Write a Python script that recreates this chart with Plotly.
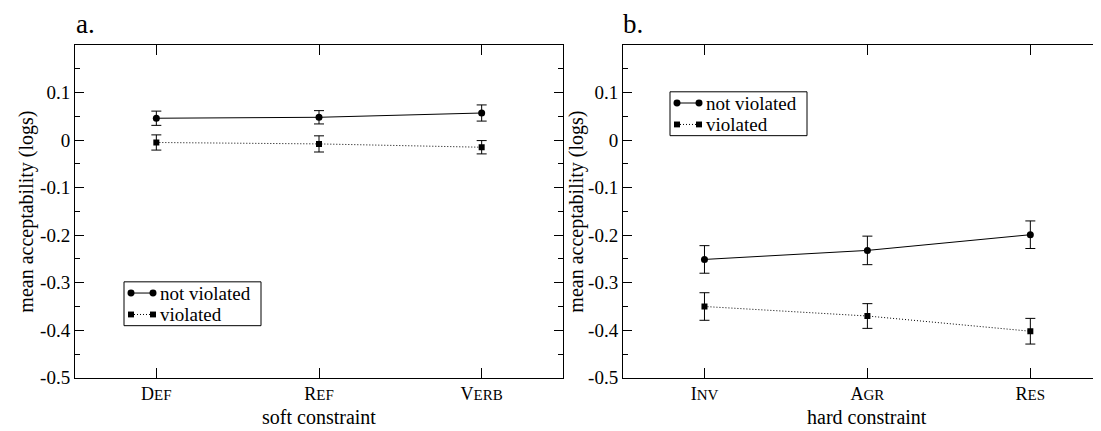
import plotly.graph_objects as go

# ---------------- data ----------------
soft_categories = ["DEF", "REF", "VERB"]
soft_not_violated = [0.046, 0.048, 0.057]
soft_not_violated_err = [0.015, 0.014, 0.017]
soft_violated = [-0.005, -0.008, -0.015]
soft_violated_err = [0.016, 0.017, 0.014]

hard_categories = ["INV", "AGR", "RES"]
hard_not_violated = [-0.251, -0.232, -0.199]
hard_not_violated_err = [0.029, 0.030, 0.029]
hard_violated = [-0.350, -0.370, -0.402]
hard_violated_err = [0.029, 0.026, 0.027]

y_tick_values = [-0.5, -0.4, -0.3, -0.2, -0.1, 0.0, 0.1]
y_tick_labels = ["-0.5", "-0.4", "-0.3", "-0.2", "-0.1", "0", "0.1"]

# ---------------- layout helpers ----------------
W, H = 1101, 431
FONT = "Liberation Serif"


def fx(p):
    return p / W


def fy(p):
    return 1 - p / H


def smallcaps(word, big=18, small=15):
    return f"<span style='font-size:{big}px'>{word[0]}</span><span style='font-size:{small}px'>{word[1:]}</span>"


left_dom = [fx(67), fx(555)]
right_dom = [fx(615), 1.0]
y_dom = [fy(379.5), fy(38)]

fig = go.Figure()


def add_series(xaxis, yaxis, cats, vals, errs, symbol, size, dash):
    fig.add_trace(go.Scatter(
        x=list(range(len(cats))), y=vals,
        xaxis=xaxis, yaxis=yaxis,
        mode="lines+markers",
        line=dict(color="black", width=1, dash=dash),
        marker=dict(symbol=symbol, size=size, color="black"),
        error_y=dict(type="data", array=errs, visible=True, color="black",
                     thickness=1, width=5),
        showlegend=False, hoverinfo="skip",
    ))


add_series("x", "y", soft_categories, soft_not_violated, soft_not_violated_err, "circle", 7, "solid")
add_series("x", "y", soft_categories, soft_violated, soft_violated_err, "square", 6, "1px,2px")
add_series("x2", "y2", hard_categories, hard_not_violated, hard_not_violated_err, "circle", 7, "solid")
add_series("x2", "y2", hard_categories, hard_violated, hard_violated_err, "square", 6, "1px,2px")

common_x = dict(showline=True, linecolor="black", linewidth=1, ticks="inside",
                ticklen=10, tickcolor="black", tickwidth=1, showgrid=False,
                zeroline=False, mirror="ticks",
                tickfont=dict(family=FONT, size=18, color="black"))
common_y = dict(showline=True, linecolor="black", linewidth=1, ticks="inside",
                ticklen=9, tickcolor="black", tickwidth=1, showgrid=False,
                zeroline=False, range=[-0.5, 0.2], tickvals=y_tick_values,
                ticktext=y_tick_labels,
                minor=dict(dtick=0.05, ticklen=5, ticks="inside", tickcolor="black", tickwidth=1),
                tickfont=dict(family=FONT, size=19, color="black"))

fig.update_layout(
    width=W, height=H,
    margin=dict(l=0, r=0, t=0, b=0),
    paper_bgcolor="white", plot_bgcolor="white",
    font=dict(family=FONT, color="black"),
    xaxis=dict(domain=left_dom, range=[-0.5, 2.5], tickvals=[0, 1, 2],
               ticktext=[smallcaps(c) for c in soft_categories], anchor="y", **common_x),
    yaxis=dict(domain=y_dom, anchor="x", mirror="ticks", **common_y),
    xaxis2=dict(domain=right_dom, range=[-0.5, 2 + (1101 - 1022.3) / 163], tickvals=[0, 1, 2],
                ticktext=[smallcaps(c) for c in hard_categories], anchor="y2", **common_x),
    yaxis2=dict(domain=y_dom, anchor="x2", mirror=False, **common_y),
    yaxis3=dict(overlaying="y2", anchor="x2", side="right", range=[-0.5, 0.2],
                tickvals=y_tick_values, showticklabels=False, showline=False,
                ticks="inside", ticklen=9, tickcolor="black", showgrid=False, zeroline=False,
                minor=dict(dtick=0.05, ticklen=5, ticks="inside", tickcolor="black")),
)

# keep yaxis3 alive with an invisible trace
fig.add_trace(go.Scatter(x=[0], y=[hard_not_violated[0]], xaxis="x2", yaxis="y3",
                         mode="markers", marker=dict(opacity=0), showlegend=False,
                         hoverinfo="skip"))

annotations = []
# panel labels
annotations.append(dict(text="a.", x=fx(66), y=fy(16), xref="paper", yref="paper",
                        xanchor="left", yanchor="middle", showarrow=False,
                        font=dict(family=FONT, size=27, color="black")))
annotations.append(dict(text="b.", x=fx(613), y=fy(16), xref="paper", yref="paper",
                        xanchor="left", yanchor="middle", showarrow=False,
                        font=dict(family=FONT, size=27, color="black")))
# axis titles
for xc, t in [((67 + 555) / 2, "soft constraint"), ((615 + 1103) / 2, "hard constraint")]:
    annotations.append(dict(text=t, x=fx(xc), y=fy(420), xref="paper", yref="paper",
                            xanchor="center", yanchor="middle", showarrow=False,
                            font=dict(family=FONT, size=20, color="black")))
for xc in [19, 569]:
    annotations.append(dict(text="mean acceptability (logs)", x=fx(xc), y=fy(209),
                            xref="paper", yref="paper", textangle=-90,
                            xanchor="center", yanchor="middle", showarrow=False,
                            font=dict(family=FONT, size=20, color="black")))

shapes = []


def legend(x0, y0):
    # box
    shapes.append(dict(type="rect", xref="paper", yref="paper", x0=fx(x0), x1=fx(x0 + 137),
                       y0=fy(y0), y1=fy(y0 + 45), line=dict(color="black", width=1),
                       fillcolor="white"))
    rows = [(y0 + 11.5, "not violated", "solid", "circle"),
            (y0 + 33.5, "violated", "dot", "square")]
    for yy, label, dash, sym in rows:
        a, b = x0 + 7, x0 + 29
        shapes.append(dict(type="line", xref="paper", yref="paper", x0=fx(a), x1=fx(b),
                           y0=fy(yy), y1=fy(yy),
                           line=dict(color="black", width=1, dash="solid" if dash == "solid" else "1px,2px")))
        for cx in (a, b):
            if sym == "circle":
                shapes.append(dict(type="circle", xref="paper", yref="paper",
                                   x0=fx(cx - 3.5), x1=fx(cx + 3.5), y0=fy(yy - 3.5), y1=fy(yy + 3.5),
                                   fillcolor="black", line=dict(color="black", width=0)))
            else:
                shapes.append(dict(type="rect", xref="paper", yref="paper",
                                   x0=fx(cx - 3), x1=fx(cx + 3), y0=fy(yy - 3), y1=fy(yy + 3),
                                   fillcolor="black", line=dict(color="black", width=0)))
        annotations.append(dict(text=label, x=fx(x0 + 35), y=fy(yy), xref="paper", yref="paper",
                                xanchor="left", yanchor="middle", showarrow=False, borderpad=0,
                                font=dict(family=FONT, size=19, color="black")))


legend(116, 281)
legend(662, 86)

fig.update_layout(annotations=annotations, shapes=shapes)
fig.write_html("out.html")
